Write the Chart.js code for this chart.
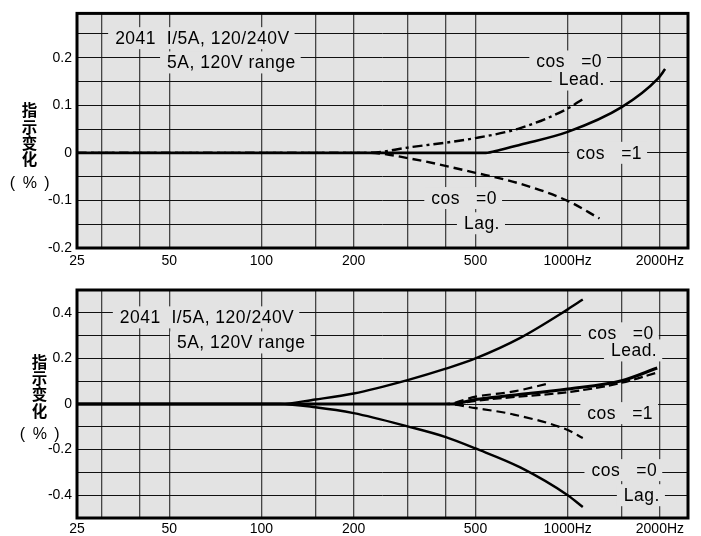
<!DOCTYPE html>
<html>
<head>
<meta charset="utf-8">
<script src="https://cdn.jsdelivr.net/npm/chart.js@4/dist/chart.umd.min.js"></script>
<style>
  body { margin: 0; background: #fff; }
  #wrap { position: relative; width: 701px; height: 536px; }
  canvas { position: absolute; left: 0; }
  #top { top: 0; }
  #bottom { top: 270px; }
</style>
</head>
<body>
<div id="wrap">
  <canvas id="top" width="701" height="270"></canvas>
  <canvas id="bottom" width="701" height="266"></canvas>
</div>
<script>
// x axis (Hz, log)
const freqGrid = [25, 30, 40, 50, 100, 150, 200, 300, 400, 500, 1000, 1500, 2000];
const freqLabelValues = [25, 50, 100, 200, 500, 1000, 2000];
const freqLabelText = ['25', '50', '100', '200', '500', '1000Hz', '2000Hz'];

// top panel y axis (%)
const topGrid = [-0.2, -0.15, -0.1, -0.05, 0, 0.05, 0.1, 0.15, 0.2, 0.25];
const topLabelValues = [-0.2, -0.1, 0, 0.1, 0.2];
const topLabelText = ['-0.2', '-0.1', '0', '0.1', '0.2'];

// bottom panel y axis (%)
const botGrid = [-0.4, -0.3, -0.2, -0.1, 0, 0.1, 0.2, 0.3, 0.4];
const botLabelValues = [-0.4, -0.2, 0, 0.2, 0.4];
const botLabelText = ['-0.4', '-0.2', '0', '0.2', '0.4'];

// top panel series
const topPf1Freq = [25, 540, 600, 700, 1000, 1500, 1970, 2080];
const topPf1Val  = [0, 0, 0.006, 0.017, 0.044, 0.096, 0.156, 0.176];
const topLeadFreq = [25, 225, 300, 500, 700, 1000, 1120];
const topLeadVal  = [0, 0, 0.011, 0.031, 0.052, 0.093, 0.113];
const topLagFreq = [25, 225, 300, 500, 700, 1000, 1270];
const topLagVal  = [0, 0, -0.011, -0.042, -0.065, -0.101, -0.138];

// bottom panel series
const botUpperFreq = [25, 115, 150, 200, 300, 400, 500, 700, 1000, 1120];
const botUpperVal  = [0, 0, 0.02, 0.046, 0.105, 0.155, 0.2, 0.29, 0.415, 0.458];
const botLowerFreq = [25, 115, 150, 200, 300, 400, 500, 700, 1000, 1120];
const botLowerVal  = [0, 0, -0.014, -0.04, -0.098, -0.145, -0.195, -0.278, -0.4, -0.452];
const botPf1Freq = [25, 420, 500, 660, 1000, 1500, 1960];
const botPf1Val  = [0, 0, 0.02, 0.038, 0.066, 0.102, 0.158];
const botPf1bFreq = [25, 420, 500, 660, 1000, 1500, 1960];
const botPf1bVal  = [0, 0, 0.014, 0.03, 0.052, 0.093, 0.138];
const botLeadFreq = [25, 400, 500, 660, 880];
const botLeadVal  = [0, 0, 0.032, 0.054, 0.092];
const botLagFreq = [25, 400, 500, 660, 1000, 1120];
const botLagVal  = [0, 0, -0.018, -0.045, -0.114, -0.149];

// text notes inside the plots (anchored in data units)
const topNotes = [
  { text: '2041  I/5A, 120/240V', f: 33.3, v: 0.241, align: 'left' },
  { text: '5A, 120V range', f: 49.2, v: 0.19, align: 'left' },
  { text: 'cos   =0', f: 1295, v: 0.192, align: 'right' },
  { text: 'Lead.', f: 1323, v: 0.154, align: 'right' },
  { text: 'cos   =1', f: 1749, v: 0.0, align: 'right' },
  { text: 'cos   =0', f: 588, v: -0.095, align: 'right' },
  { text: 'Lag.', f: 601, v: -0.148, align: 'right' }
];
const botNotes = [
  { text: '2041  I/5A, 120/240V', f: 34.5, v: 0.38, align: 'left' },
  { text: '5A, 120V range', f: 53, v: 0.27, align: 'left' },
  { text: 'cos   =0', f: 1910, v: 0.31, align: 'right' },
  { text: 'Lead.', f: 1960, v: 0.235, align: 'right' },
  { text: 'cos   =1', f: 1900, v: -0.04, align: 'right' },
  { text: 'cos   =0', f: 1960, v: -0.29, align: 'right' },
  { text: 'Lag.', f: 2000, v: -0.4, align: 'right' }
];

const plotBg = '#e3e3e3';
const font = '"Liberation Sans", Arial, sans-serif';

function pts(fs, vs) {
  return fs.map((f, i) => ({ x: f, y: vs[i] }));
}

function line(fs, vs, width, dash) {
  return {
    data: pts(fs, vs),
    borderColor: '#000',
    borderWidth: width,
    borderDash: dash,
    pointRadius: 0,
    fill: false,
    cubicInterpolationMode: 'monotone'
  };
}

function pick(v, values, texts) {
  for (let i = 0; i < values.length; i++) {
    if (Math.abs(values[i] - v) < 1e-9) return texts[i];
  }
  return '';
}

const panelPlugin = {
  id: 'panel',
  beforeDraw(chart) {
    const a = chart.chartArea, ctx = chart.ctx;
    ctx.save();
    ctx.fillStyle = plotBg;
    ctx.fillRect(a.left, a.top, a.right - a.left, a.bottom - a.top);
    ctx.restore();
  },
  beforeDatasetsDraw(chart, args, opts) {
    const ctx = chart.ctx, xs = chart.scales.x, ys = chart.scales.y;
    ctx.save();
    ctx.font = '17.5px ' + font;
    ctx.letterSpacing = '0.5px';
    ctx.textBaseline = 'middle';
    ctx.textAlign = 'left';
    opts.notes.forEach(n => {
      const x = xs.getPixelForValue(n.f), y = ys.getPixelForValue(n.v);
      const w = ctx.measureText(n.text).width;
      const left = n.align === 'right' ? x - w : x;
      ctx.fillStyle = plotBg;
      ctx.fillRect(left - 7, y - 11, w + 12, 22);
      ctx.fillStyle = '#000';
      ctx.fillText(n.text, left, y + 1);
    });
    ctx.restore();
  },
  afterDraw(chart, args, opts) {
    const a = chart.chartArea, ctx = chart.ctx;
    ctx.save();
    ctx.strokeStyle = '#000';
    ctx.lineWidth = 3;
    ctx.strokeRect(a.left, a.top, a.right - a.left, a.bottom - a.top);
    // vertical y title
    ctx.fillStyle = '#000';
    ctx.textAlign = 'center';
    ctx.textBaseline = 'middle';
    ctx.font = 'bold 15.5px "Noto Sans CJK SC", sans-serif';
    const chars = ['指', '示', '变', '化'];
    chars.forEach((c, i) => ctx.fillText(c, opts.titleX, opts.titleY + i * 16.3));
    ctx.font = '16px ' + font;
    ctx.letterSpacing = '1.5px';
    ctx.fillText('( % )', opts.titleX + 1, opts.titleY + 73);
    ctx.restore();
  }
};

function makeChart(id, datasets, grid, labelValues, labelText, ymin, ymax, padTop, xPad, notes, titleX, titleY) {
  const canvas = document.getElementById(id);
  const H = canvas.height;
  return new Chart(canvas.getContext('2d'), {
    type: 'line',
    data: { datasets: datasets },
    plugins: [panelPlugin],
    options: {
      responsive: false,
      animation: false,
      events: [],
      layout: { padding: { top: padTop, right: 13, left: 0, bottom: 0 } },
      plugins: {
        legend: { display: false },
        tooltip: { enabled: false },
        panel: { notes: notes, titleX: titleX, titleY: titleY }
      },
      scales: {
        x: {
          type: 'logarithmic',
          min: 25,
          max: 2470,
          afterBuildTicks: s => { s.ticks = freqGrid.map(v => ({ value: v })); },
          afterFit: s => { s.height = H - padTop - (padTop === 10 ? 238 : 228); },
          border: { display: false },
          grid: { color: '#454545', lineWidth: 1.3, drawTicks: false },
          ticks: {
            autoSkip: false,
            maxRotation: 0,
            padding: xPad,
            color: '#000',
            font: { family: font, size: 14 },
            callback: v => pick(v, freqLabelValues, freqLabelText)
          }
        },
        y: {
          min: ymin,
          max: ymax,
          afterBuildTicks: s => { s.ticks = grid.map(v => ({ value: v })); },
          afterFit: s => { s.width = 77; },
          border: { display: false },
          grid: { color: '#111', lineWidth: 1, drawTicks: false },
          ticks: {
            padding: 5,
            color: '#000',
            font: { family: font, size: 14 },
            callback: v => pick(v, labelValues, labelText)
          }
        }
      }
    }
  });
}

makeChart('top', [
  line(topPf1Freq, topPf1Val, 2.6, []),
  line(topLeadFreq, topLeadVal, 2.4, [10, 4, 3, 4]),
  line(topLagFreq, topLagVal, 2.4, [9, 5])
], topGrid, topLabelValues, topLabelText, -0.2, 0.293, 10, 5, topNotes, 29.5, 110.5);

makeChart('bottom', [
  line(botUpperFreq, botUpperVal, 2.4, []),
  line(botLowerFreq, botLowerVal, 2.4, []),
  line(botPf1Freq, botPf1Val, 3, []),
  line(botPf1bFreq, botPf1bVal, 2.2, [9, 4]),
  line(botLeadFreq, botLeadVal, 2.2, [9, 5]),
  line(botLagFreq, botLagVal, 2.2, [9, 5])
], botGrid, botLabelValues, botLabelText, -0.5, 0.5, 20, 3, botNotes, 39.5, 92);
</script>
</body>
</html>
